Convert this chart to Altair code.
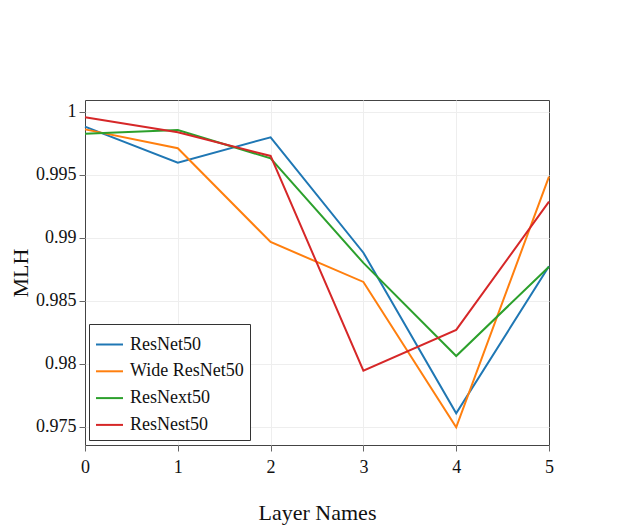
import altair as alt
import pandas as pd

layers = [0, 1, 2, 3, 4, 5]
series_names = ["ResNet50", "Wide ResNet50", "ResNext50", "ResNest50"]
resnet50 = [0.99884, 0.99598, 0.99799, 0.98883, 0.97609, 0.98775]
wide_resnet50 = [0.99862, 0.99712, 0.98968, 0.98651, 0.97498, 0.99487]
resnext50 = [0.99828, 0.99857, 0.99632, 0.98802, 0.98063, 0.98772]
resnest50 = [0.99958, 0.99839, 0.99651, 0.97947, 0.98270, 0.99288]
colors = ["#1f77b4", "#ff7f0e", "#2ca02c", "#d62728"]

rows = []
for name, vals in zip(series_names, [resnet50, wide_resnet50, resnext50, resnest50]):
    for x, v in zip(layers, vals):
        rows.append({"layer": x, "MLH": v, "model": name})
df = pd.DataFrame(rows)

font = "Liberation Serif"

chart = alt.Chart(df).mark_line(strokeWidth=2).encode(
    x=alt.X("layer:Q", title="Layer Names",
            scale=alt.Scale(domain=[0, 5], nice=False, zero=False),
            axis=alt.Axis(values=layers, format="d", tickSize=6, labelPadding=7,
                          titlePadding=26, domain=False, labelFlush=False,
                          gridOpacity={"condition": {"test": "datum.value == 0 || datum.value == 5",
                                                     "value": 0}, "value": 1})),
    y=alt.Y("MLH:Q", title="MLH",
            scale=alt.Scale(domain=[0.97357, 1.00095], nice=False, zero=False),
            axis=alt.Axis(values=[0.975, 0.98, 0.985, 0.99, 0.995, 1.0],
                          tickSize=6, labelPadding=3, titlePadding=3, domain=False,
                          format="~g", labelFlush=False)),
    color=alt.Color("model:N", sort=series_names,
                    scale=alt.Scale(domain=series_names, range=colors),
                    legend=alt.Legend(title=None, orient="none", legendX=4, legendY=224,
                                      symbolType="stroke", symbolSize=729,
                                      symbolStrokeWidth=2, labelFontSize=18,
                                      labelFont=font, labelColor="#111",
                                      strokeColor="#333", fillColor="white",
                                      padding=6, rowPadding=2.8, labelOffset=6)),
).properties(
    width=464, height=345,
    autosize=alt.AutoSizeParams(type="none"),
    padding={"left": 77, "top": 92, "right": 72, "bottom": 80},
).configure_view(
    stroke="#444", strokeWidth=1
).configure_axis(
    labelFont=font, titleFont=font, labelFontSize=18, titleFontSize=22,
    labelColor="#111", titleColor="#111", titleFontWeight="normal",
    gridColor="#eeeeee", tickColor="#666", grid=True
)

chart.save("out.html", embed_options={"renderer": "svg", "actions": False})
